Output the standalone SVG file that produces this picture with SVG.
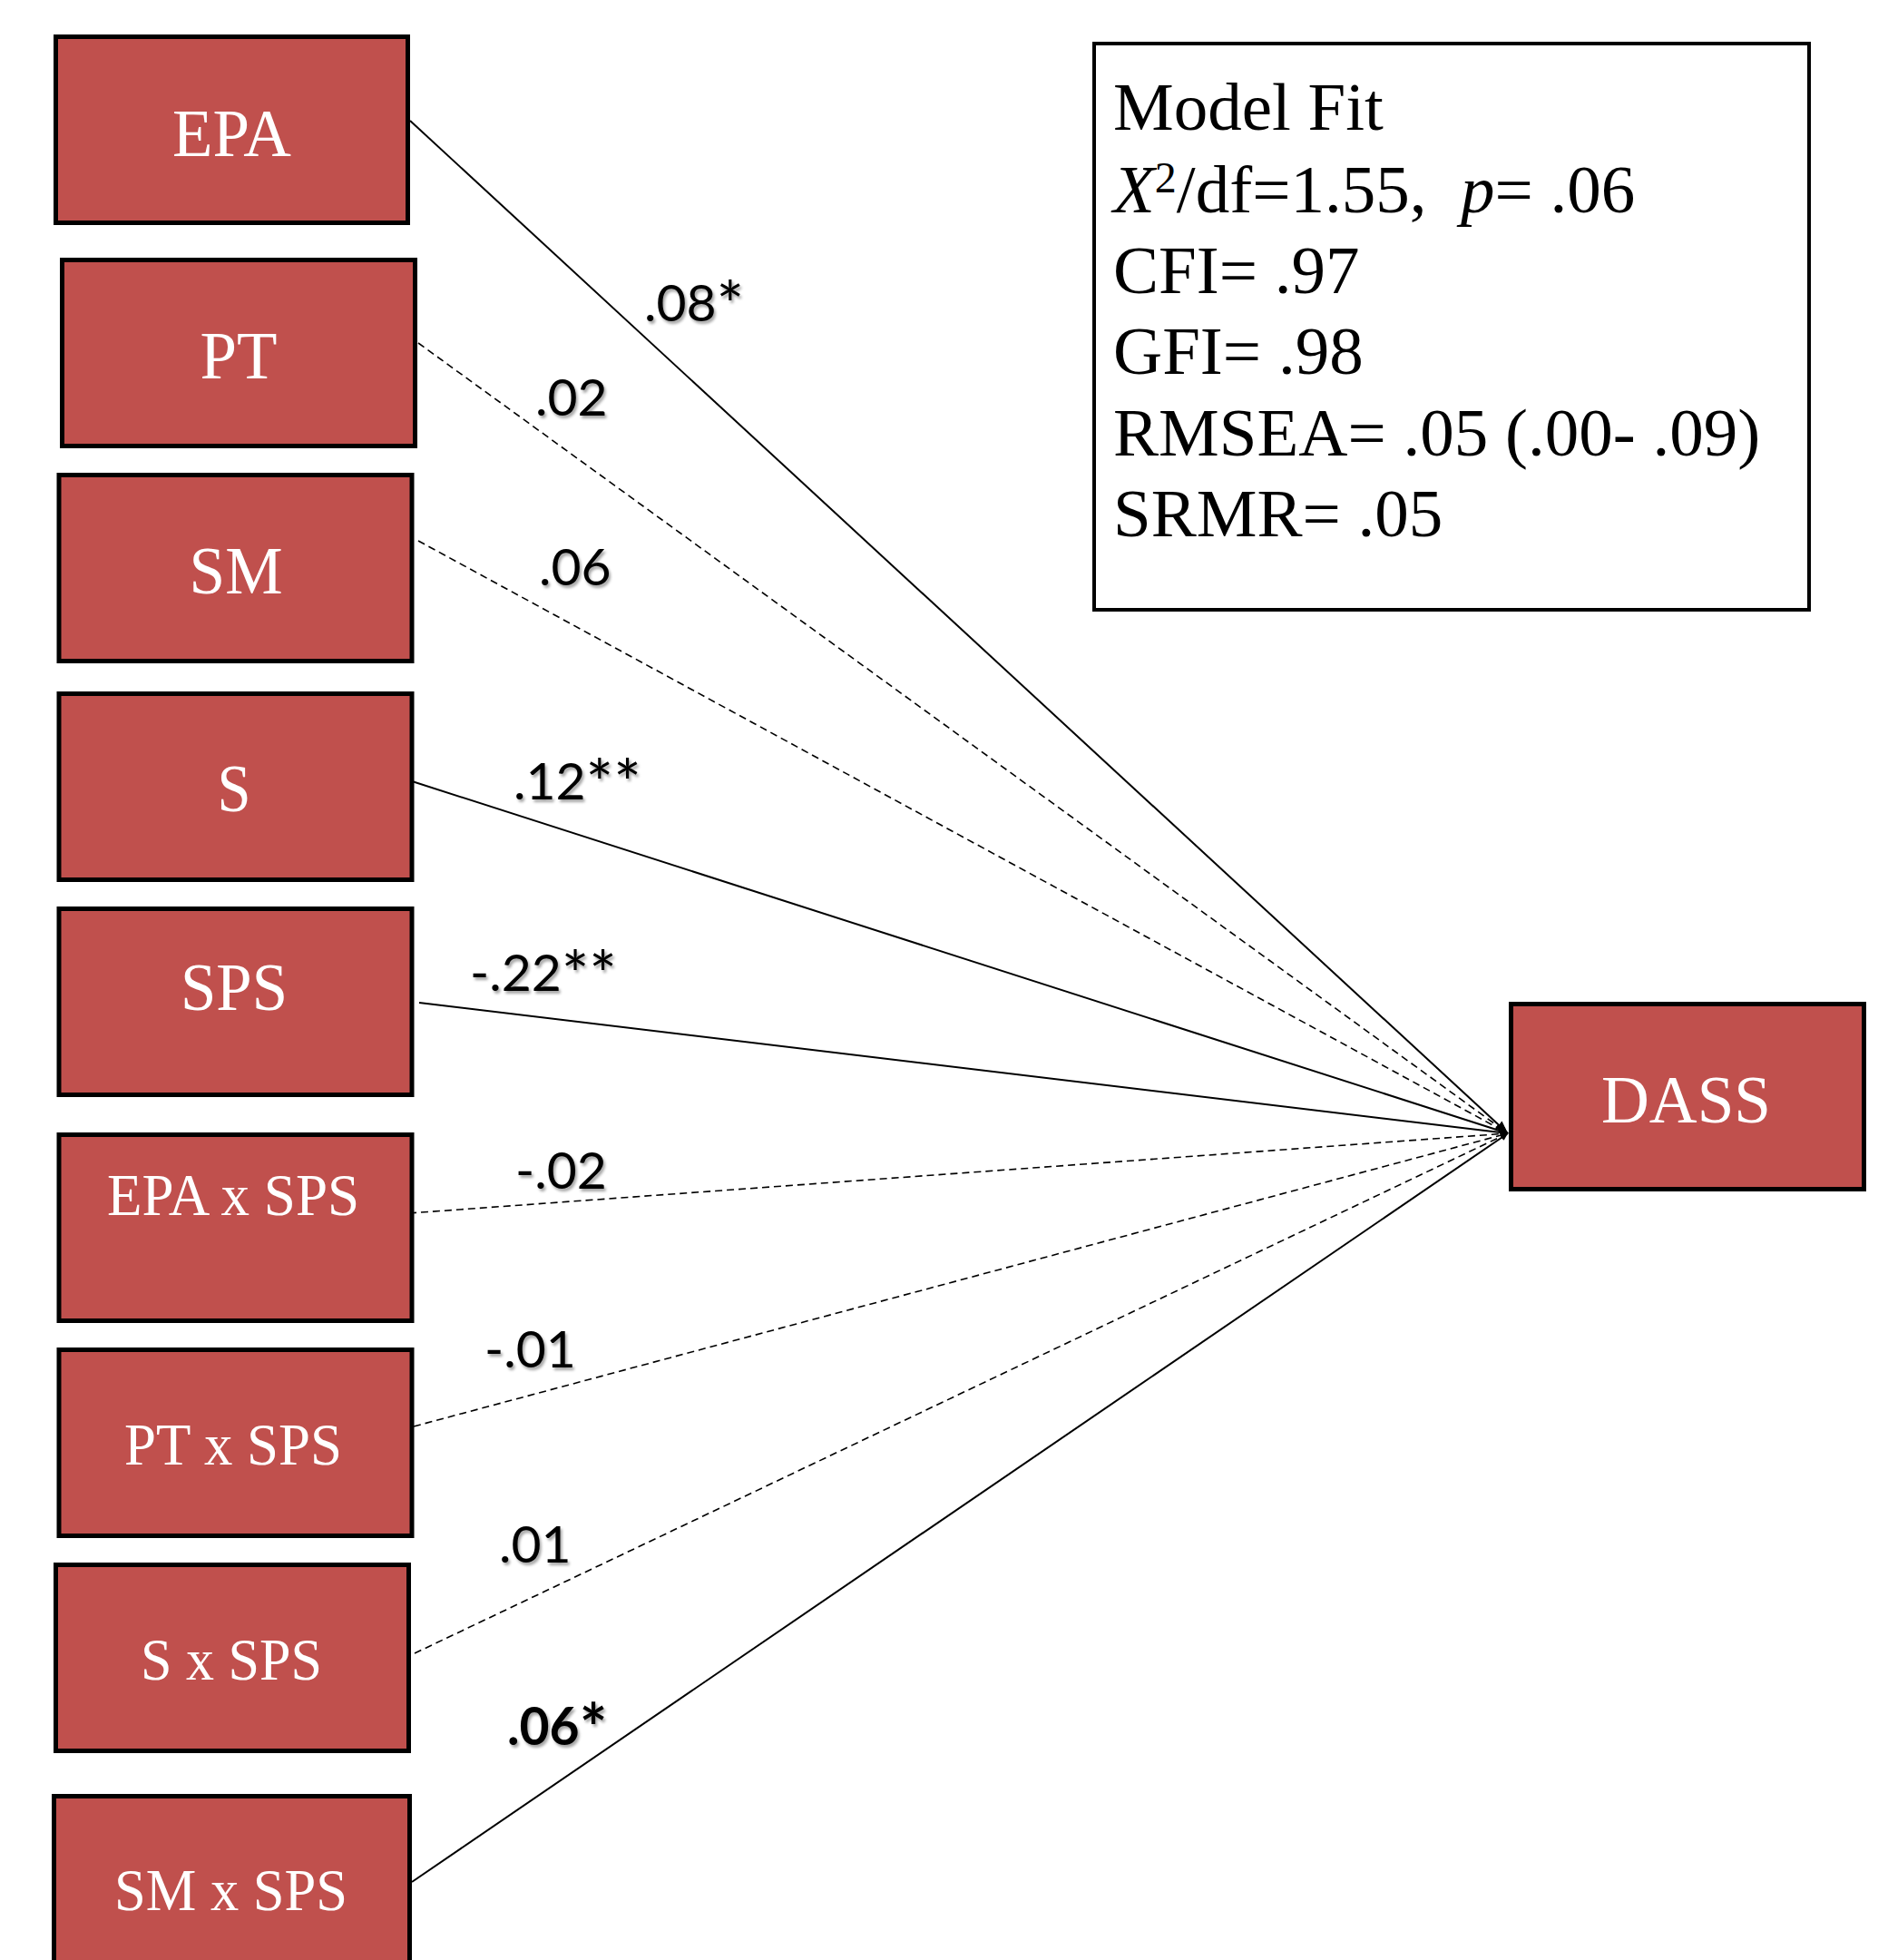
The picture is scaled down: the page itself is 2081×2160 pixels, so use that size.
<svg xmlns="http://www.w3.org/2000/svg" width="2081" height="2160" viewBox="0 0 2081 2160">
<style>
.box{fill:#C0504D;stroke:#000;stroke-width:5;}
.bt{fill:#fff;font-family:"Liberation Serif","Times New Roman",serif;text-anchor:middle;}
.big{font-size:75px;}
.sm{font-size:66px;}
.fit{fill:#000;font-family:"Liberation Serif","Times New Roman",serif;font-size:75px;}
.solid{stroke:#000;stroke-width:2;fill:none;}
.dash{stroke:#000;stroke-width:1.6;fill:none;stroke-dasharray:8 5;}
.lab{fill:#000;font-family:Lato,"Open Sans",sans-serif;font-size:57px;}
.ast{font-size:72px;}
</style>
<defs>
<marker id="ah" viewBox="0 0 10 10" refX="10" refY="5" markerWidth="8" markerHeight="8" markerUnits="userSpaceOnUse" orient="auto"><path d="M0,0 L10,5 L0,10 z" fill="#000"/></marker>
<marker id="ahs" viewBox="0 0 10 10" refX="10" refY="5" markerWidth="14" markerHeight="14" markerUnits="userSpaceOnUse" orient="auto"><path d="M0,1 L10,5 L0,9 z" fill="#000"/></marker>
<filter id="sh" x="-10%" y="-10%" width="130%" height="140%"><feDropShadow dx="2" dy="3" stdDeviation="1.5" flood-color="#000" flood-opacity="0.35"/></filter>
</defs>
<rect width="2081" height="2160" fill="#fff"/>

<g id="connectors">
<line class="solid" x1="452" y1="133" x2="1662" y2="1249" marker-end="url(#ahs)"/>
<line class="dash" x1="461" y1="378" x2="1662" y2="1249" marker-end="url(#ah)"/>
<line class="dash" x1="461" y1="596" x2="1662" y2="1249" marker-end="url(#ah)"/>
<line class="solid" x1="451" y1="860" x2="1662" y2="1249" marker-end="url(#ah)"/>
<line class="solid" x1="462" y1="1105" x2="1662" y2="1249" marker-end="url(#ah)"/>
<line class="dash" x1="451" y1="1337" x2="1662" y2="1249" marker-end="url(#ah)"/>
<line class="dash" x1="456" y1="1572" x2="1662" y2="1249" marker-end="url(#ah)"/>
<line class="dash" x1="457" y1="1822" x2="1662" y2="1249" marker-end="url(#ah)"/>
<line class="solid" x1="454" y1="2074" x2="1662" y2="1249" marker-end="url(#ah)"/>
</g>

<g id="labels" filter="url(#sh)">
<text class="lab" x="710" y="354">.08<tspan class="ast" dy="8">*</tspan></text>
<text class="lab" x="590" y="458">.02</text>
<text class="lab" x="594" y="645">.06</text>
<text class="lab" x="566" y="881">.12<tspan class="ast" dy="8">**</tspan></text>
<text class="lab" x="518" y="1092">-.22<tspan class="ast" dy="8">**</tspan></text>
<text class="lab" x="568" y="1310">-.02</text>
<text class="lab" x="534" y="1507">-.01</text>
<text class="lab" x="550" y="1722">.01</text>
<text class="lab" x="559" y="1923" font-weight="bold">.06<tspan class="ast" dy="8">*</tspan></text>
</g>

<g id="node-epa"><rect class="box" x="61.5" y="40.5" width="388" height="205"/><text class="bt big" x="255.5" y="172" textLength="131" lengthAdjust="spacingAndGlyphs">EPA</text></g>
<g id="node-pt"><rect class="box" x="68.5" y="286.5" width="389" height="205"/><text class="bt big" x="263" y="417" textLength="85" lengthAdjust="spacingAndGlyphs">PT</text></g>
<g id="node-sm"><rect class="box" x="65" y="523.5" width="389" height="205"/><text class="bt big" x="260" y="654" textLength="103" lengthAdjust="spacingAndGlyphs">SM</text></g>
<g id="node-s"><rect class="box" x="65" y="764.5" width="389" height="205"/><text class="bt big" x="258" y="894" textLength="37" lengthAdjust="spacingAndGlyphs">S</text></g>
<g id="node-sps"><rect class="box" x="65" y="1001.5" width="389" height="205"/><text class="bt big" x="258" y="1113" textLength="118" lengthAdjust="spacingAndGlyphs">SPS</text></g>
<g id="node-epaxsps"><rect class="box" x="65" y="1250.5" width="389" height="205"/><text class="bt sm" x="257" y="1339" textLength="278" lengthAdjust="spacingAndGlyphs">EPA x SPS</text></g>
<g id="node-ptxsps"><rect class="box" x="65" y="1487.5" width="389" height="205"/><text class="bt sm" x="257" y="1614" textLength="240" lengthAdjust="spacingAndGlyphs">PT x SPS</text></g>
<g id="node-sxsps"><rect class="box" x="61.5" y="1724.5" width="389" height="205"/><text class="bt sm" x="255" y="1851" textLength="200" lengthAdjust="spacingAndGlyphs">S x SPS</text></g>
<g id="node-smxsps"><rect class="box" x="59.5" y="1979.5" width="392" height="205"/><text class="bt sm" x="254.5" y="2105" textLength="257" lengthAdjust="spacingAndGlyphs">SM x SPS</text></g>
<g id="node-dass"><rect class="box" x="1665.5" y="1106.5" width="389" height="204"/><text class="bt big" x="1858.5" y="1237" textLength="187" lengthAdjust="spacingAndGlyphs">DASS</text></g>

<g id="model-fit">
<rect x="1206" y="48" width="788" height="624" fill="#fff" stroke="#000" stroke-width="4"/>
<text class="fit" x="1227" y="143">Model Fit</text>
<text class="fit" x="1227" y="234" xml:space="preserve"><tspan font-style="italic">X</tspan><tspan font-size="48" dy="-22">2</tspan><tspan dy="22">/df=1.55,  </tspan><tspan font-style="italic">p</tspan><tspan>= .06</tspan></text>
<text class="fit" x="1227" y="323">CFI= .97</text>
<text class="fit" x="1227" y="412">GFI= .98</text>
<text class="fit" x="1227" y="502">RMSEA= .05 (.00- .09)</text>
<text class="fit" x="1227" y="591">SRMR= .05</text>
</g>
</svg>
